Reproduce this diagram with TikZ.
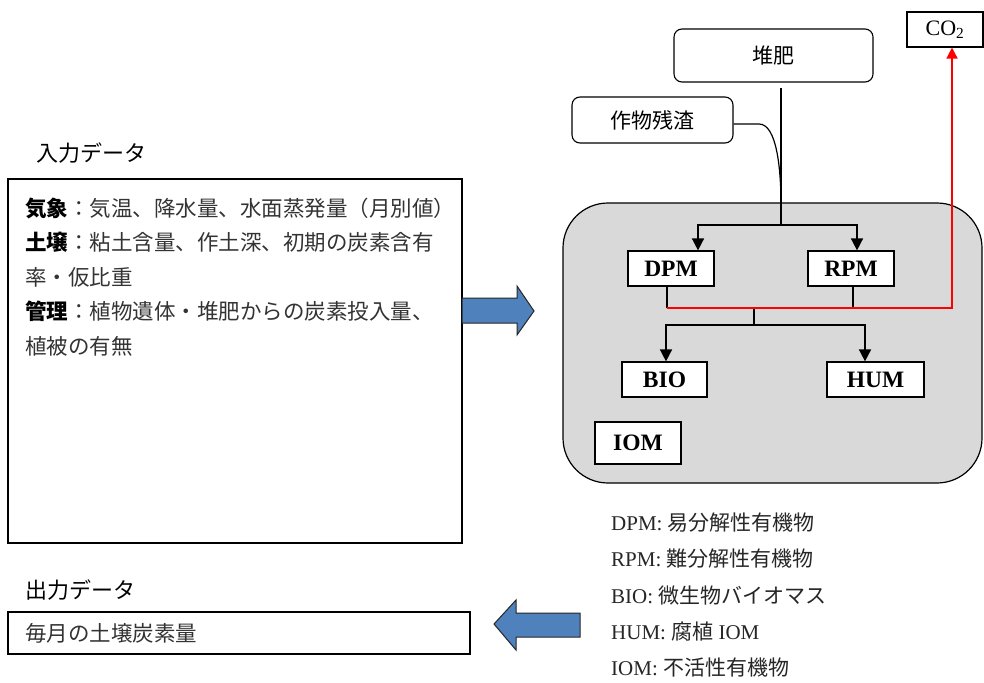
\documentclass[tikz,border=0pt]{standalone}
\usepackage{fontspec}
\setmainfont{Liberation Serif}
\newfontfamily\jp{Noto Sans CJK JP}
\usepackage{tikz}
\usetikzlibrary{arrows.meta}
\definecolor{arrowblue}{HTML}{4F81BD}
\definecolor{poolgray}{HTML}{D9D9D9}

\begin{document}
\begin{tikzpicture}[x=1pt,y=-1pt,
    box/.style={draw, line width=1.2pt, fill=white, inner sep=0pt, font=\bfseries\fontsize{23.5}{23.5}\selectfont},
    src/.style={draw, line width=1.1pt, rounded corners=8pt, fill=white, inner sep=0pt, font=\jp\fontsize{21}{21}\selectfont},
    txt/.style={anchor=west, inner sep=0pt, font=\jp\fontsize{21.5}{21.5}\selectfont, text=black!80},
    leg/.style={anchor=west, inner sep=0pt, font=\fontsize{21}{21}\selectfont, text=black!85},
    flow/.style={line width=1.6pt, -{Triangle[length=12pt,width=12pt]}},
    blockarrow/.style={draw=black!85, line width=1pt, fill=arrowblue, line join=miter}]
      \useasboundingbox (0,0) rectangle (984,682);

      % input side
      \node(IT)[inner sep=0pt, font=\jp\fontsize{22}{22}\selectfont] at (91,153) {入力データ};
      \node(IN)[draw, line width=1.1pt, minimum width=454, minimum height=364, inner sep=0pt] at (235,361) {};
      \node(L1)[txt] at (25,208) {{\bfseries\color{black}気象}：気温、降水量、水面蒸発量（月別値）};
      \node(L2)[txt] at (25,242) {{\bfseries\color{black}土壌}：粘土含量、作土深、初期の炭素含有};
      \node(L3)[txt] at (25,277) {率・仮比重};
      \node(L4)[txt] at (25,311) {{\bfseries\color{black}管理}：植物遺体・堆肥からの炭素投入量、};
      \node(L5)[txt] at (25,346) {植被の有無};

      \draw[blockarrow] (462,298) -- (517,298) -- (517,286) -- (534,311) -- (517,335) -- (517,323) -- (462,323) -- cycle;

      % output side
      \node(OT)[inner sep=0pt, font=\jp\fontsize{22}{22}\selectfont] at (80,590) {出力データ};
      \node(OUT)[draw, line width=1.1pt, minimum width=462, minimum height=42, inner sep=0pt] at (239,633) {};
      \node(OL)[txt] at (25,633) {毎月の土壌炭素量};

      \draw[blockarrow] (580,613) -- (516,613) -- (516,600) -- (494,624) -- (516,650) -- (516,637) -- (580,637) -- cycle;

      % model
      \node(POOL)[draw, line width=1.2pt, fill=poolgray, rounded corners=45pt, minimum width=419, minimum height=280, inner sep=0pt] at (772.5,343) {};

      \node(TH)[src, minimum width=199, minimum height=53] at (773.5,55.5) {堆肥};
      \node(SK)[src, minimum width=161, minimum height=46] at (652.5,120) {作物残渣};
      \node(CO)[draw, line width=1.1pt, fill=white, minimum width=76, minimum height=35, inner sep=0pt, font=\fontsize{22}{22}\selectfont] at (945,29.5) {CO\textsubscript{2}};

      \node(DPM)[box, minimum width=86, minimum height=35] at (671,268.5) {DPM};
      \node(RPM)[box, minimum width=86, minimum height=35] at (851,268.5) {RPM};
      \node(BIO)[box, minimum width=85, minimum height=35] at (664.5,379.5) {BIO};
      \node(HUM)[box, minimum width=97, minimum height=35] at (875.5,379.5) {HUM};
      \node(IOM)[box, minimum width=86, minimum height=42] at (638,443) {IOM};

      \coordinate(F0) at (781,88);
      \coordinate(F1) at (781,225);
      \draw[line width=1.6pt] (F0) -- (F1);
      \draw[line width=1.2pt] (SK.east |- 0,124) -- (759,124) .. controls (777,124) and (781,170) .. (781,205);
      \draw[flow] (F1) -| ([xshift=27pt]DPM.north);
      \draw[flow] (F1) -| ([xshift=6pt]RPM.north);

      \coordinate(R0) at (667,308);
      \coordinate(R1) at (853,308);
      \coordinate(S0) at (754,308);
      \coordinate(S1) at (754,325);
      \draw[line width=1.2pt] (R0 |- DPM.south) -- (R0);
      \draw[line width=1.2pt] (R1 |- RPM.south) -- (R1);
      \draw[line width=1.2pt] (S0) -- (S1);
      \draw[flow] (S1) -| ([xshift=1.5pt]BIO.north);
      \draw[flow] (S1) -| ([xshift=-10.5pt]HUM.north);
      \draw[red, line width=1.4pt, -{Triangle[length=11pt,width=11pt]}] (R0) -| ([xshift=7pt]CO.south);

      % legend
      \node(G1)[leg] at (611,523) {DPM: {\jp 易分解性有機物}};
      \node(G2)[leg] at (611,559) {RPM: {\jp 難分解性有機物}};
      \node(G3)[leg] at (611,596) {BIO: {\jp 微生物バイオマス}};
      \node(G4)[leg] at (611,632) {HUM: {\jp 腐植} IOM};
      \node(G5)[leg] at (611,668) {IOM: {\jp 不活性有機物}};
     \end{tikzpicture}
\end{document}
